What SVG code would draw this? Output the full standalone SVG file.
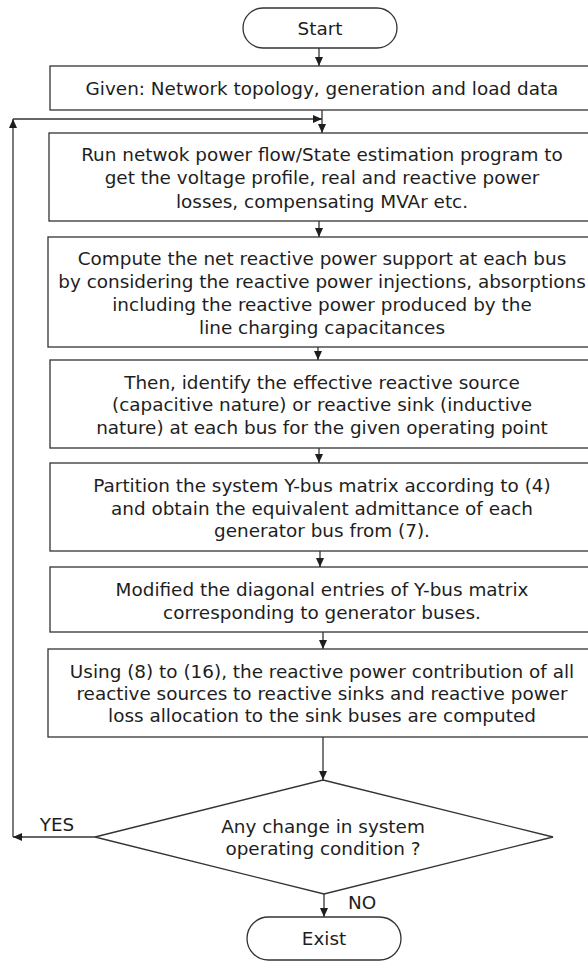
<svg xmlns="http://www.w3.org/2000/svg" width="588" height="961" viewBox="0 0 588 961">
<style>
.box{fill:#fff;stroke:#333;stroke-width:1.3}
.t{font-family:"DejaVu Sans",sans-serif;font-size:18.4px;fill:#1e1e1e;text-anchor:middle;dominant-baseline:central}
.c{fill:none;stroke:#333;stroke-width:1.3}
</style>
<defs>
<marker id="ah" markerWidth="10" markerHeight="10" refX="9" refY="5" orient="auto" markerUnits="userSpaceOnUse">
<path d="M0,1 L9,5 L0,9 Z" fill="#1e1e1e"/>
</marker>
</defs>
<rect width="588" height="961" fill="#fff"/>
<g id="connectors">
<line class="c" x1="319" y1="48" x2="319" y2="66" marker-end="url(#ah)"/>
<line class="c" x1="322" y1="110" x2="322" y2="133" marker-end="url(#ah)"/>
<line class="c" x1="319" y1="221" x2="319" y2="237" marker-end="url(#ah)"/>
<line class="c" x1="318" y1="347" x2="318" y2="360" marker-end="url(#ah)"/>
<line class="c" x1="319" y1="448" x2="319" y2="463" marker-end="url(#ah)"/>
<line class="c" x1="320" y1="551" x2="320" y2="567" marker-end="url(#ah)"/>
<line class="c" x1="323" y1="632" x2="323" y2="649" marker-end="url(#ah)"/>
<line class="c" x1="323" y1="737" x2="323" y2="780" marker-end="url(#ah)"/>
<line class="c" x1="324" y1="894" x2="324" y2="917" marker-end="url(#ah)"/>
<line class="c" x1="95" y1="837" x2="13" y2="837" marker-end="url(#ah)"/>
<line class="c" x1="13" y1="837" x2="13" y2="119" marker-end="url(#ah)"/>
<line class="c" x1="13" y1="119" x2="322" y2="119" marker-end="url(#ah)"/>
<text class="t" x="57" y="824">YES</text>
<text class="t" x="362" y="902">NO</text>
</g>
<g id="start">
<rect class="box" x="243" y="8" width="154" height="40" rx="20"/>
<text class="t" x="320" y="28">Start</text>
</g>
<g id="given">
<rect class="box" x="50" y="66" width="546" height="44"/>
<text class="t" x="322" y="88">Given: Network topology, generation and load data</text>
</g>
<g id="run">
<rect class="box" x="49" y="133" width="547" height="88"/>
<text class="t" x="322" y="154">Run netwok power flow/State estimation program to</text>
<text class="t" x="322" y="177">get the voltage profile, real and reactive power</text>
<text class="t" x="322" y="201">losses, compensating MVAr etc.</text>
</g>
<g id="compute">
<rect class="box" x="48" y="237" width="548" height="110"/>
<text class="t" x="322" y="258">Compute the net reactive power support at each bus</text>
<text class="t" x="322" y="281">by considering the reactive power injections, absorptions</text>
<text class="t" x="322" y="304">including the reactive power produced by the</text>
<text class="t" x="322" y="327">line charging capacitances</text>
</g>
<g id="identify">
<rect class="box" x="50" y="360" width="546" height="88"/>
<text class="t" x="322" y="382">Then, identify the effective reactive source</text>
<text class="t" x="322" y="404">(capacitive nature) or reactive sink (inductive</text>
<text class="t" x="322" y="427">nature) at each bus for the given operating point</text>
</g>
<g id="partition">
<rect class="box" x="50" y="463" width="546" height="88"/>
<text class="t" x="322" y="485">Partition the system Y-bus matrix according to (4)</text>
<text class="t" x="322" y="508">and obtain the equivalent admittance of each</text>
<text class="t" x="322" y="530">generator bus from (7).</text>
</g>
<g id="modified">
<rect class="box" x="50" y="567" width="546" height="65"/>
<text class="t" x="322" y="589">Modified the diagonal entries of Y-bus matrix</text>
<text class="t" x="322" y="612">corresponding to generator buses.</text>
</g>
<g id="using">
<rect class="box" x="48" y="649" width="548" height="88"/>
<text class="t" x="322" y="671">Using (8) to (16), the reactive power contribution of all</text>
<text class="t" x="322" y="693">reactive sources to reactive sinks and reactive power</text>
<text class="t" x="322" y="715">loss allocation to the sink buses are computed</text>
</g>
<g id="decision">
<polygon class="box" points="323,780 553,837 324,894 95,837"/>
<text class="t" x="323" y="826">Any change in system</text>
<text class="t" x="323" y="848">operating condition ?</text>
</g>
<g id="exist">
<rect class="box" x="247" y="917" width="154" height="43" rx="21.5"/>
<text class="t" x="324" y="938">Exist</text>
</g>
</svg>
